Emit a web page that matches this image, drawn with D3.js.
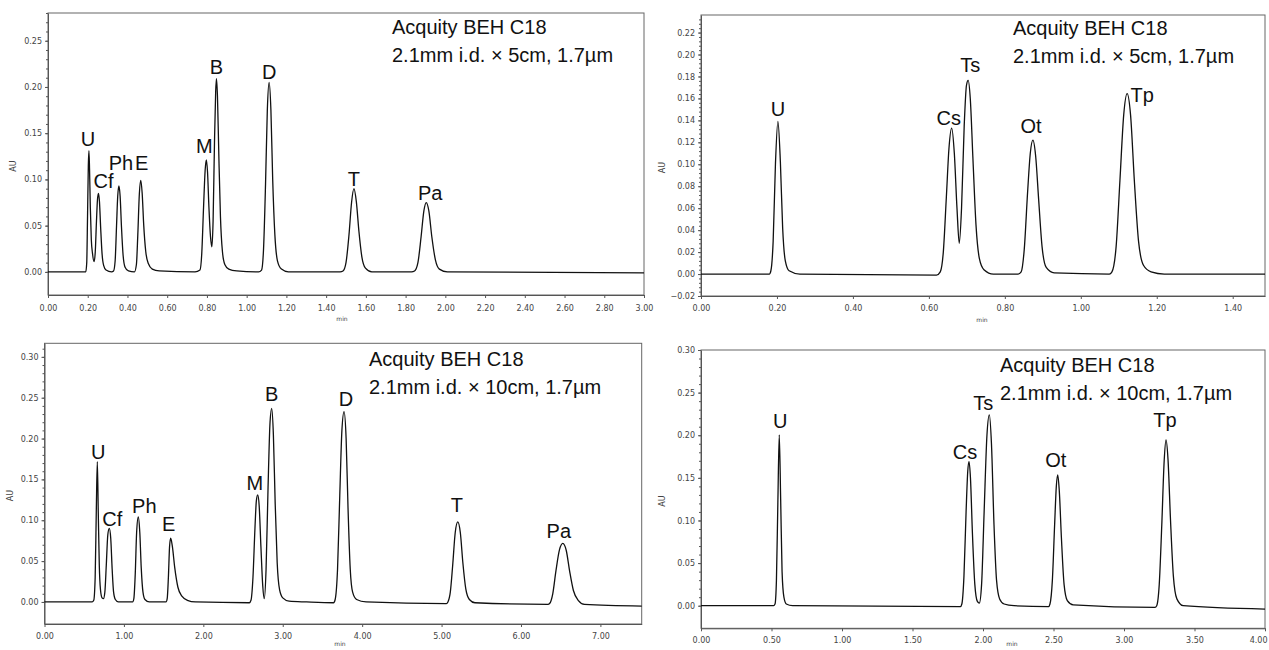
<!DOCTYPE html>
<html>
<head>
<meta charset="utf-8">
<script src="https://cdn.jsdelivr.net/npm/d3@7"></script>
<style>
body { margin: 0; background: #fff; }
.tick text { font-family: "DejaVu Sans", sans-serif; font-size: 8px; fill: #444; }
.domain, .tick line { stroke: #555; }
.peak { font-family: "Liberation Sans", Arial, sans-serif; font-size: 20px; fill: #111; text-anchor: middle; }
.col { font-family: "Liberation Sans", Arial, sans-serif; font-size: 20px; fill: #111; }
.axt { font-family: "DejaVu Sans", sans-serif; font-size: 8px; fill: #444; }
</style>
</head>
<body>
<svg id="chart" width="1269" height="650"></svg>
<script>
// traces: [time (min), AU]
var p1Trace = [[0,0],[0.180,0],
  [0.190,0],[0.195,0.010],[0.199,0.060],[0.203,0.115],[0.206,0.131],[0.209,0.112],[0.213,0.070],[0.218,0.035],[0.224,0.020],[0.232,0.011],
  [0.238,0.022],[0.244,0.055],[0.249,0.078],[0.254,0.085],[0.259,0.076],[0.265,0.048],[0.272,0.020],[0.280,0.007],[0.292,0.002],[0.320,0],
  [0.330,0.001],[0.338,0.012],[0.345,0.050],[0.351,0.082],[0.357,0.093],[0.363,0.082],[0.370,0.048],[0.378,0.018],[0.388,0.005],[0.405,0.001],[0.435,0],
  [0.445,0.008],[0.452,0.040],[0.460,0.085],[0.467,0.099],[0.474,0.085],[0.482,0.050],[0.492,0.022],[0.505,0.009],[0.525,0.003],[0.560,0.001],[0.740,0],
  [0.765,0.002],[0.774,0.020],[0.783,0.070],[0.791,0.110],[0.797,0.121],[0.803,0.108],[0.810,0.070],[0.818,0.038],[0.825,0.027],
  [0.831,0.055],[0.838,0.140],[0.844,0.195],[0.848,0.209],[0.853,0.190],[0.860,0.125],[0.868,0.060],[0.878,0.022],[0.890,0.008],[0.910,0.003],[0.950,0.001],[1.060,0],
  [1.075,0.002],[1.085,0.025],[1.095,0.095],[1.104,0.175],[1.113,0.205],[1.122,0.175],[1.131,0.100],[1.142,0.040],[1.155,0.012],[1.175,0.003],[1.210,0],[1.470,0],
  [1.485,0.001],[1.500,0.010],[1.515,0.040],[1.528,0.075],[1.540,0.090],[1.552,0.076],[1.565,0.044],[1.580,0.016],[1.598,0.004],[1.630,0],[1.830,0],
  [1.845,0.001],[1.862,0.010],[1.878,0.038],[1.892,0.066],[1.904,0.075],[1.917,0.066],[1.932,0.038],[1.950,0.013],[1.970,0.003],[2.010,0],[3.000,-0.001]];

var p2Trace = [[0,0],[0.180,0],
  [0.184,0.003],[0.190,0.030],[0.196,0.100],[0.2025,0.139],[0.209,0.102],[0.215,0.042],[0.222,0.012],[0.232,0.003],[0.260,0],[0.620,-0.001],
  [0.630,0.002],[0.638,0.020],[0.646,0.070],[0.653,0.115],[0.660,0.133],[0.667,0.110],[0.674,0.060],[0.680,0.028],
  [0.686,0.060],[0.693,0.135],[0.699,0.172],[0.7035,0.1765],[0.709,0.160],[0.716,0.105],[0.724,0.045],[0.733,0.014],[0.745,0.004],[0.770,0],[0.835,0],
  [0.843,0.002],[0.851,0.022],[0.860,0.075],[0.867,0.110],[0.874,0.122],[0.881,0.108],[0.889,0.068],[0.898,0.025],[0.909,0.006],[0.930,0.001],[1.075,0],
  [1.082,0.002],[1.093,0.025],[1.103,0.085],[1.113,0.145],[1.122,0.1643],[1.131,0.145],[1.141,0.085],[1.152,0.030],[1.165,0.008],[1.185,0.002],[1.220,0],[1.485,0]];

var p3Trace = [[0,0],[0.600,0],
  [0.620,0.002],[0.638,0.030],[0.652,0.110],[0.665,0.1716],[0.677,0.110],[0.690,0.045],[0.705,0.015],[0.725,0.005],[0.742,0.004],
  [0.760,0.012],[0.778,0.045],[0.797,0.082],[0.816,0.090],[0.834,0.078],[0.852,0.040],[0.870,0.012],[0.892,0.003],[0.930,0],[1.110,0],
  [1.125,0.004],[1.143,0.035],[1.160,0.085],[1.181,0.104],[1.200,0.085],[1.218,0.042],[1.240,0.012],[1.265,0.003],[1.320,0],[1.530,0],
  [1.545,0.004],[1.560,0.030],[1.575,0.068],[1.589,0.078],[1.610,0.068],[1.640,0.042],[1.680,0.018],[1.730,0.007],[1.800,0.002],[1.900,0],[2.580,-0.001],
  [2.600,0.002],[2.625,0.030],[2.650,0.090],[2.668,0.124],[2.685,0.131],[2.703,0.118],[2.725,0.068],[2.748,0.020],[2.768,0.004],
  [2.790,0.040],[2.815,0.140],[2.840,0.220],[2.861,0.237],[2.882,0.205],[2.905,0.120],[2.930,0.048],[2.960,0.015],[3.000,0.005],[3.080,0.001],[3.300,0],[3.640,-0.001],
  [3.660,0.003],[3.690,0.040],[3.718,0.130],[3.745,0.210],[3.772,0.233],[3.798,0.200],[3.822,0.115],[3.850,0.040],[3.880,0.012],[3.930,0.003],[4.050,0],[5.060,-0.002],
  [5.080,0],[5.110,0.012],[5.140,0.045],[5.172,0.085],[5.204,0.098],[5.236,0.085],[5.268,0.048],[5.305,0.016],[5.350,0.003],[5.420,-0.001],[6.340,-0.003],
  [6.360,-0.002],[6.400,0.010],[6.440,0.038],[6.485,0.064],[6.527,0.0716],[6.570,0.063],[6.612,0.038],[6.660,0.014],[6.720,0.002],[6.800,-0.003],[7.520,-0.005]];

var p4Trace = [[0,0],[0.515,0],
  [0.525,0.002],[0.535,0.030],[0.545,0.120],[0.555,0.2004],[0.565,0.125],[0.575,0.040],[0.588,0.010],[0.605,0.002],[0.650,0],[1.840,-0.001],
  [1.850,0.002],[1.865,0.035],[1.880,0.110],[1.892,0.158],[1.901,0.169],[1.911,0.150],[1.925,0.085],[1.942,0.025],[1.960,0.005],[1.974,0.003],
  [1.990,0.025],[2.008,0.110],[2.028,0.200],[2.045,0.224],[2.060,0.190],[2.078,0.095],[2.096,0.030],[2.118,0.008],[2.150,0.002],[2.220,0],[2.465,-0.001],
  [2.475,0.002],[2.492,0.030],[2.508,0.095],[2.520,0.140],[2.530,0.1534],[2.541,0.135],[2.556,0.080],[2.575,0.025],[2.598,0.006],[2.640,0.001],[3.220,-0.002],
  [3.232,0],[3.250,0.025],[3.268,0.095],[3.285,0.170],[3.298,0.1945],[3.312,0.172],[3.330,0.100],[3.350,0.035],[3.375,0.008],[3.420,0],[4.000,-0.004]];

// peak names with apex time and height
var p1Peaks = ["U", "Cf", "Ph", "E", "M", "B", "D", "T", "Pa"];
var p1PeakTimes = [0.206, 0.254, 0.357, 0.467, 0.797, 0.848, 1.113, 1.540, 1.904];
var p1PeakHeights = [0.131, 0.085, 0.093, 0.099, 0.121, 0.209, 0.205, 0.090, 0.075];

var p2Peaks = ["U", "Cs", "Ts", "Ot", "Tp"];
var p2PeakTimes = [0.2025, 0.660, 0.7035, 0.874, 1.122];
var p2PeakHeights = [0.139, 0.133, 0.1765, 0.122, 0.1643];

var p3Peaks = ["U", "Cf", "Ph", "E", "M", "B", "D", "T", "Pa"];
var p3PeakTimes = [0.665, 0.816, 1.181, 1.589, 2.685, 2.861, 3.772, 5.204, 6.527];
var p3PeakHeights = [0.1716, 0.090, 0.104, 0.078, 0.131, 0.237, 0.233, 0.098, 0.0716];

var p4Peaks = ["U", "Cs", "Ts", "Ot", "Tp"];
var p4PeakTimes = [0.555, 1.901, 2.045, 2.530, 3.298];
var p4PeakHeights = [0.2004, 0.169, 0.224, 0.1534, 0.1945];

// tick values
var p1XTicks = [0, 0.2, 0.4, 0.6, 0.8, 1.0, 1.2, 1.4, 1.6, 1.8, 2.0, 2.2, 2.4, 2.6, 2.8, 3.0];
var p1YTicks = [0, 0.05, 0.10, 0.15, 0.20, 0.25];
var p2XTicks = [0, 0.2, 0.4, 0.6, 0.8, 1.0, 1.2, 1.4];
var p2YTicks = [-0.02, 0, 0.02, 0.04, 0.06, 0.08, 0.10, 0.12, 0.14, 0.16, 0.18, 0.20, 0.22];
var p3XTicks = [0, 1, 2, 3, 4, 5, 6, 7];
var p3YTicks = [0, 0.05, 0.10, 0.15, 0.20, 0.25, 0.30];
var p4XTicks = [0, 0.5, 1.0, 1.5, 2.0, 2.5, 3.0, 3.5, 4.0];
var p4YTicks = [0, 0.05, 0.10, 0.15, 0.20, 0.25, 0.30];

var colName = "Acquity BEH C18";
var colShort = "2.1mm i.d. \u00d7 5cm, 1.7\u00b5m";
var colLong = "2.1mm i.d. \u00d7 10cm, 1.7\u00b5m";

// label nudges [dx, gap above apex] in px
var nudge = [
  { U: [-1, 5], Cf: [5, 5], Ph: [2, 16], E: [1, 10], M: [-2, 7], B: [0, 5], D: [0, 3], T: [0, 3], Pa: [4, 3] },
  { U: [0, 5], Cs: [-3, 3], Ts: [2, 8], Ot: [-2, 7], Tp: [15, -8] },
  { U: [1, 3], Cf: [3, 2], Ph: [6, 4], E: [-2, 7], M: [-3, 5], B: [0, 7], D: [2, 6], T: [-1, 10], Pa: [-4, 5] },
  { U: [1, 7], Cs: [-4, 3], Ts: [-6, 5], Ot: [-2, 8], Tp: [-1, 13] }
];

var panels = [
  { trace: p1Trace, names: p1Peaks, times: p1PeakTimes, heights: p1PeakHeights,
    xTicks: p1XTicks, yTicks: p1YTicks, xDomain: [0, 3.0], yDomain: [-0.025, 0.28],
    x0: 48, x1: 644, y0: 13, y1: 295, pad: 7, lines: [colName, colShort], tx: 392, ty: 34, auX: 16, minX: 342, minY: 321 },
  { trace: p2Trace, names: p2Peaks, times: p2PeakTimes, heights: p2PeakHeights,
    xTicks: p2XTicks, yTicks: p2YTicks, xDomain: [0, 1.485], yDomain: [-0.02, 0.236],
    x0: 701, x1: 1265, y0: 15, y1: 296, pad: 6, lines: [colName, colShort], tx: 1013, ty: 35, auX: 665, minX: 982, minY: 322 },
  { trace: p3Trace, names: p3Peaks, times: p3PeakTimes, heights: p3PeakHeights,
    xTicks: p3XTicks, yTicks: p3YTicks, xDomain: [0, 7.52], yDomain: [-0.027, 0.3166],
    x0: 44.5, x1: 641.7, y0: 343.3, y1: 624, pad: 6, lines: [colName, colLong], tx: 369, ty: 366, auX: 13, minX: 340, minY: 646 },
  { trace: p4Trace, names: p4Peaks, times: p4PeakTimes, heights: p4PeakHeights,
    xTicks: p4XTicks, yTicks: p4YTicks, xDomain: [0, 4.0], yDomain: [-0.0265, 0.30],
    x0: 701, x1: 1265, y0: 350, y1: 628.3, pad: 6, lines: [colName, colLong], tx: 1000, ty: 372, auX: 665, minX: 1012, minY: 646 }
];

var svg = d3.select("#chart");
var fmt = d3.format(".2f");

panels.forEach(function(p, i) {
  var x = d3.scaleLinear().domain(p.xDomain).range([p.x0, p.x1]);
  var y = d3.scaleLinear().domain(p.yDomain).range([p.y1, p.y0]);
  var g = svg.append("g");

  // frame
  g.append("rect")
    .attr("x", p.x0).attr("y", p.y0)
    .attr("width", p.x1 - p.x0).attr("height", p.y1 - p.y0)
    .attr("fill", "none").attr("stroke", "#666").attr("stroke-width", 1);

  // minor y ticks
  var step = p.yTicks[1] - p.yTicks[0];
  var minor = d3.range(p.yTicks[0], p.yDomain[1], step / 5);
  g.append("g")
    .attr("transform", "translate(" + p.x0 + ",0)")
    .call(d3.axisLeft(y).tickValues(minor).tickSize(2).tickFormat(""))
    .call(function(s) { s.select(".domain").remove(); })
    .selectAll("line").attr("stroke", "#888");

  g.append("g")
    .attr("transform", "translate(" + p.x0 + ",0)")
    .call(d3.axisLeft(y).tickValues(p.yTicks).tickSize(3).tickPadding(3).tickFormat(fmt).tickSizeOuter(0));

  var xAxis = g.append("g")
    .attr("transform", "translate(0," + p.y1 + ")")
    .call(d3.axisBottom(x).tickValues(p.xTicks).tickSize(3).tickPadding(p.pad).tickFormat(fmt).tickSizeOuter(0));

  // keep a label at the right page edge inside the picture
  xAxis.selectAll(".tick text")
    .filter(function(d) { return x(d) > 1255; })
    .attr("text-anchor", "end")
    .attr("dx", 2);

  g.append("text").attr("class", "axt")
    .attr("transform", "translate(" + p.auX + "," + ((p.y0 + p.y1) / 2 + 12) + ") rotate(-90)")
    .attr("text-anchor", "middle")
    .text("AU");

  g.append("text").attr("class", "axt")
    .attr("x", p.minX).attr("y", p.minY)
    .attr("text-anchor", "middle")
    .style("font-size", "6px")
    .text("min");

  var line = d3.line()
    .x(function(d) { return x(d[0]); })
    .y(function(d) { return y(d[1]); })
    .curve(d3.curveMonotoneX);

  g.append("path")
    .datum(p.trace)
    .attr("d", line)
    .attr("fill", "none")
    .attr("stroke", "#111")
    .attr("stroke-width", 1.3)
    .attr("stroke-linejoin", "round");

  g.selectAll(".peak")
    .data(p.names)
    .enter().append("text")
    .attr("class", "peak")
    .attr("x", function(d, k) { return x(p.times[k]) + nudge[i][d][0]; })
    .attr("y", function(d, k) { return y(p.heights[k]) - nudge[i][d][1]; })
    .text(function(d) { return d; });

  g.selectAll(".col")
    .data(p.lines)
    .enter().append("text")
    .attr("class", "col")
    .attr("x", p.tx)
    .attr("y", function(d, k) { return p.ty + k * 28; })
    .text(function(d) { return d; });
});
</script>
</body>
</html>
